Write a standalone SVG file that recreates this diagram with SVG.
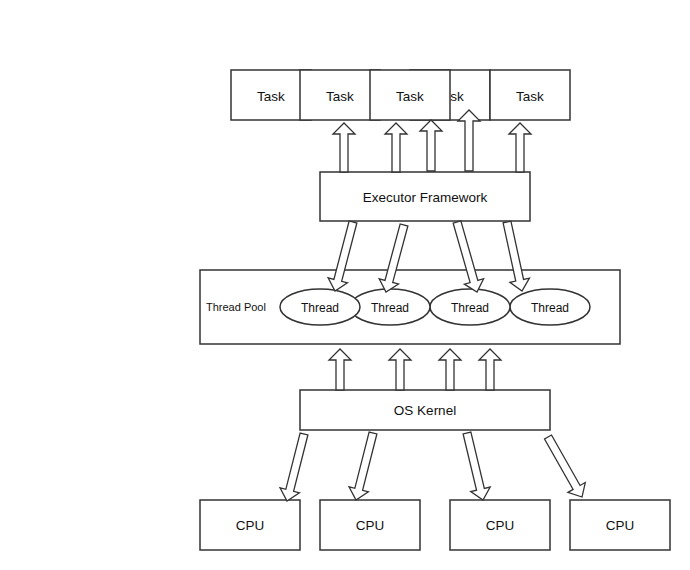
<svg xmlns="http://www.w3.org/2000/svg" width="690" height="570" viewBox="0 0 690 570">
<style>
.box{fill:#fff;stroke:#333;stroke-width:1.5}
.ell{fill:#fff;stroke:#333;stroke-width:1.5}
.arr{fill:#fff;stroke:#333;stroke-width:1.3;stroke-linejoin:miter}
.t{font-family:"Liberation Sans",Arial,sans-serif;font-size:13.5px;fill:#111;text-anchor:middle}
.ts{font-family:"Liberation Sans",Arial,sans-serif;font-size:12px;fill:#111;text-anchor:middle}
.tp{font-family:"Liberation Sans",Arial,sans-serif;font-size:11px;fill:#111}
</style>
<rect width="690" height="570" fill="#fff"/>
<g id="task1"><rect class="box" x="231" y="70" width="80" height="50"/><text class="t" x="271" y="101">Task</text></g>
<g id="task2"><rect class="box" x="300" y="70" width="80" height="50"/><text class="t" x="340" y="101">Task</text></g>
<g id="task4"><rect class="box" x="410" y="70" width="80" height="50"/><text class="t" x="450" y="101">Task</text></g>
<g id="task3"><rect class="box" x="370" y="70" width="80" height="50"/><text class="t" x="410" y="101">Task</text></g>
<g id="task5"><rect class="box" x="490" y="70" width="80" height="50"/><text class="t" x="530" y="101">Task</text></g>
<g id="executor"><rect class="box" x="320" y="172" width="210" height="49"/><text class="t" x="425" y="202">Executor Framework</text></g>
<g id="threadpool"><rect class="box" x="200" y="270" width="420" height="74"/><text class="tp" x="206" y="311">Thread Pool</text></g>
<g id="thread4"><ellipse class="ell" cx="550" cy="307" rx="40" ry="18"/><text class="ts" x="550" y="311.5">Thread</text></g>
<g id="thread3"><ellipse class="ell" cx="470" cy="307" rx="40" ry="18"/><text class="ts" x="470" y="311.5">Thread</text></g>
<g id="thread2"><ellipse class="ell" cx="390" cy="307" rx="40" ry="18"/><text class="ts" x="390" y="311.5">Thread</text></g>
<g id="thread1"><ellipse class="ell" cx="320" cy="307" rx="40" ry="18"/><text class="ts" x="320" y="311.5">Thread</text></g>
<g id="oskernel"><rect class="box" x="300" y="390" width="250" height="40"/><text class="t" x="425" y="415">OS Kernel</text></g>
<g id="cpu1"><rect class="box" x="200" y="500" width="100" height="50"/><text class="t" x="250" y="530">CPU</text></g>
<g id="cpu2"><rect class="box" x="320" y="500" width="100" height="50"/><text class="t" x="370" y="530">CPU</text></g>
<g id="cpu3"><rect class="box" x="450" y="500" width="100" height="50"/><text class="t" x="500" y="530">CPU</text></g>
<g id="cpu4"><rect class="box" x="570" y="500" width="100" height="50"/><text class="t" x="620" y="530">CPU</text></g>
<g id="connectors">
<path class="arr" transform="translate(344,172)" d="M-4 0V-38H-11L0-49L11-38H4V0Z"/>
<path class="arr" transform="translate(396,172)" d="M-4 0V-38H-11L0-49L11-38H4V0Z"/>
<path class="arr" transform="translate(431,171)" d="M-4 0V-40H-11L0-51L11-40H4V0Z"/>
<path class="arr" transform="translate(469,171)" d="M-4 0V-50H-11L0-61L11-50H4V0Z"/>
<path class="arr" transform="translate(520,172)" d="M-4 0V-38H-11L0-49L11-38H4V0Z"/>
<path class="arr" transform="translate(353,222) rotate(194.62)" d="M-4 0V-60.3H-10L0-71.3L10-60.3H4V0Z"/>
<path class="arr" transform="translate(404,225) rotate(195.04)" d="M-4 0V-58.4H-10L0-69.4L10-58.4H4V0Z"/>
<path class="arr" transform="translate(457,222) rotate(164.05)" d="M-4 0V-61.8H-10L0-72.8L10-61.8H4V0Z"/>
<path class="arr" transform="translate(507,222) rotate(167.74)" d="M-4 0V-59.6H-10L0-70.6L10-59.6H4V0Z"/>
<path class="arr" transform="translate(340,390)" d="M-4 0V-30H-11L0-41L11-30H4V0Z"/>
<path class="arr" transform="translate(400,390)" d="M-4 0V-30H-11L0-41L11-30H4V0Z"/>
<path class="arr" transform="translate(450,390)" d="M-4 0V-30H-11L0-41L11-30H4V0Z"/>
<path class="arr" transform="translate(490,390)" d="M-4 0V-30H-11L0-41L11-30H4V0Z"/>
<path class="arr" transform="translate(304,434) rotate(194.24)" d="M-4 0V-58.1H-10L0-69.1L10-58.1H4V0Z"/>
<path class="arr" transform="translate(373,433) rotate(194.24)" d="M-4 0V-58.1H-10L0-69.1L10-58.1H4V0Z"/>
<path class="arr" transform="translate(467,433) rotate(166.57)" d="M-4 0V-57.9H-10L0-68.9L10-57.9H4V0Z"/>
<path class="arr" transform="translate(548,437) rotate(150.46)" d="M-4 0V-58H-10L0-69L10-58H4V0Z"/>
</g>
</svg>
